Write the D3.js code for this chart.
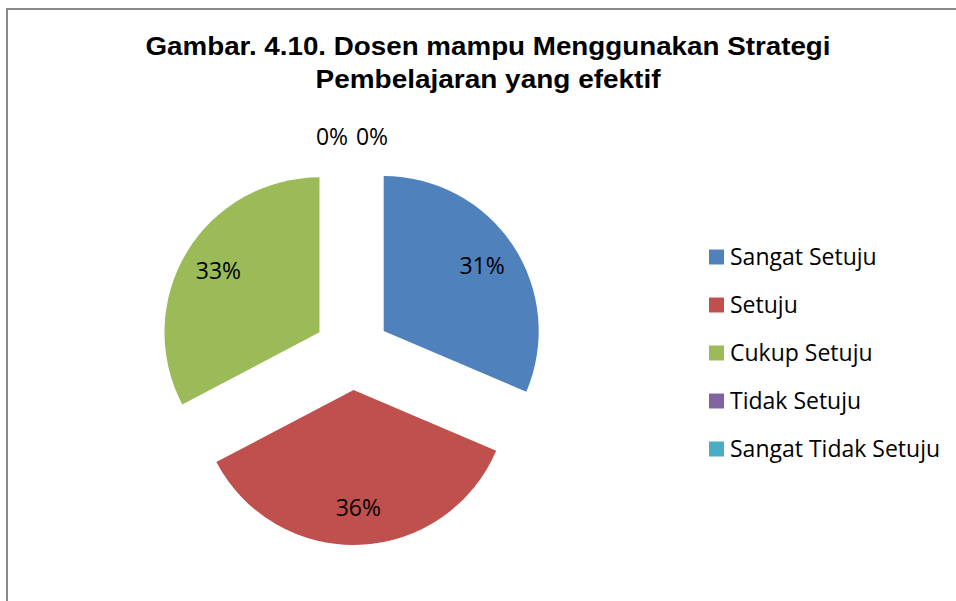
<!DOCTYPE html>
<html>
<head>
<meta charset="utf-8">
<script src="https://cdn.jsdelivr.net/npm/d3@7"></script>
<style>
  body { margin: 0; background: #fff; }
  svg { display: block; }
  .title { font-family: "Liberation Sans", Arial, sans-serif; font-weight: bold; font-size: 25px; fill: #000; }
  .pct, .legend text { font-family: "Open Sans", "Noto Sans", sans-serif; font-size: 23px; fill: #000; }
</style>
</head>
<body>
<svg width="956" height="601"></svg>
<script>
  // data (percent shares)
  const categories = ['Sangat Setuju', 'Setuju', 'Cukup Setuju', 'Tidak Setuju', 'Sangat Tidak Setuju'];
  const shares = [31.4, 35.9, 32.7, 0, 0];
  const colors = ['#4F81BD', '#C0504D', '#9BBB59', '#8064A2', '#4BACC6'];
  const titleLines = ['Gambar. 4.10. Dosen mampu Menggunakan Strategi', 'Pembelajaran yang efektif'];

  const data = categories.map((name, i) => ({name, value: shares[i], color: colors[i]}));
  const total = d3.sum(shares);
  const pctFormat = d3.format('.0%');

  const svg = d3.select('svg');

  // chart frame
  svg.append('rect')
    .attr('x', 7).attr('y', 9)
    .attr('width', 1000).attr('height', 700)
    .attr('fill', 'none')
    .attr('stroke', '#8a8a8a')
    .attr('stroke-width', 2);

  // title
  svg.selectAll('text.title').data(titleLines)
    .enter().append('text')
      .attr('class', 'title')
      .attr('x', 488)
      .attr('y', (d, i) => 55 + i * 33)
      .attr('text-anchor', 'middle')
      .attr('textLength', (d, i) => i === 0 ? 685 : 345)
      .attr('lengthAdjust', 'spacingAndGlyphs')
      .text(d => d);

  const cx = 352, cy = 352, radius = 155, explode = 38;

  const pie = d3.pie().sort(null).value(d => d.value);
  const arc = d3.arc().innerRadius(0).outerRadius(radius);
  const labelArc = d3.arc().innerRadius(118).outerRadius(118);
  const zeroArc = d3.arc().innerRadius(radius + 60).outerRadius(radius + 60);

  const shift = d => {
    const mid = (d.startAngle + d.endAngle) / 2;
    return [Math.sin(mid) * explode, -Math.cos(mid) * explode];
  };

  const arcs = pie(data);
  const pieG = svg.append('g').attr('transform', `translate(${cx},${cy})`);

  const slices = pieG.selectAll('g.slice').data(arcs)
    .enter().append('g')
      .attr('class', 'slice')
      .attr('transform', d => `translate(${shift(d)})`);

  slices.filter(d => d.value > 0).append('path')
    .attr('d', arc)
    .attr('fill', d => d.data.color);

  // zero-value labels sit above the pie, side by side
  let zeroIdx = 0;
  slices.append('text')
    .attr('class', 'pct')
    .attr('text-anchor', 'middle')
    .attr('dy', '0.35em')
    .attr('transform', d => {
      if (d.value > 0) return `translate(${labelArc.centroid(d)})`;
      const [x, y] = zeroArc.centroid(d);
      const dx = zeroIdx++ === 0 ? -20 : 20;
      const [sx, sy] = shift(d);
      return `translate(${x + dx - sx},${y - sy})`;
    })
    .text(d => pctFormat(d.value / total));

  // legend
  const legend = svg.append('g')
    .attr('class', 'legend')
    .attr('transform', 'translate(709,257)');

  const items = legend.selectAll('g').data(data)
    .enter().append('g')
      .attr('transform', (d, i) => `translate(0,${i * 48})`);

  items.append('rect')
    .attr('x', 0).attr('y', -7.5)
    .attr('width', 15).attr('height', 15)
    .attr('fill', d => d.color);

  items.append('text')
    .attr('x', 21)
    .attr('dy', '0.35em')
    .text(d => d.name);
</script>
</body>
</html>
